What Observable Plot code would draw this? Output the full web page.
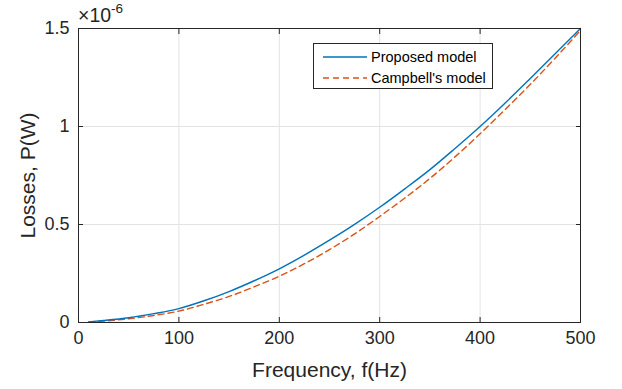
<!DOCTYPE html>
<html>
<head>
<meta charset="utf-8">
<script src="https://cdn.jsdelivr.net/npm/d3@7"></script>
<script src="https://cdn.jsdelivr.net/npm/@observablehq/plot@0.6"></script>
<style>
  html, body { margin: 0; padding: 0; background: #fff; }
  #wrap { position: relative; width: 622px; height: 389px; font-family: "Liberation Sans", Arial, Helvetica, sans-serif; }
  #legend { position: absolute; left: 313px; top: 43px; width: 180px; height: 46px; border: 1px solid #262626; background: #fff; box-sizing: border-box; font-size: 14.5px; color: #000; }
  .row { position: absolute; left: 9px; height: 18px; display: flex; align-items: center; }
  .row span { margin-left: 4px; }
  #expo { position: absolute; left: 78px; top: 6px; font-size: 19.5px; line-height: 19px; color: #262626; white-space: nowrap; }
  #expo sup { font-size: 13.5px; line-height: 12px; vertical-align: baseline; position: relative; top: -9px; }
</style>
</head>
<body>
<div id="wrap"></div>
<script>
// Frequency (Hz)
const freq = [10, 25, 50, 75, 100, 125, 150, 175, 200, 225, 250, 275, 300, 325, 350, 375, 400, 425, 450, 475, 500];
// Losses in units of 1e-6 W
const proposed = [0.003, 0.010, 0.024, 0.045, 0.071, 0.111, 0.158, 0.213, 0.274, 0.344, 0.420, 0.501, 0.588, 0.682, 0.780, 0.888, 1.000, 1.120, 1.245, 1.372, 1.500];
const campbell = [0.002, 0.007, 0.019, 0.036, 0.058, 0.093, 0.133, 0.182, 0.236, 0.300, 0.372, 0.452, 0.541, 0.635, 0.735, 0.845, 0.963, 1.087, 1.215, 1.350, 1.490];
const xTicks = [0, 100, 200, 300, 400, 500];
const yTicks = [0, 0.5, 1, 1.5];
const seriesNames = ["Proposed model", "Campbell's model"];
const colors = ["#0072BD", "#D95319"];

const rows = freq.flatMap((f, i) => [
  {f, v: proposed[i], s: seriesNames[0]},
  {f, v: campbell[i], s: seriesNames[1]}
]);

const axisColor = "#262626";
const plot = Plot.plot({
  width: 622,
  height: 389,
  marginLeft: 78,
  marginRight: 42,
  marginTop: 28,
  marginBottom: 67,
  style: { fontFamily: '"Liberation Sans", Arial, Helvetica, sans-serif', background: "#fff", color: axisColor },
  x: { domain: [0, 500] },
  y: { domain: [0, 1.5] },
  marks: [
    Plot.gridX(xTicks, { stroke: "#e3e3e3", strokeOpacity: 1 }),
    Plot.gridY(yTicks, { stroke: "#e3e3e3", strokeOpacity: 1 }),
    Plot.line(rows.filter(d => d.s === seriesNames[1]), { x: "f", y: "v", stroke: colors[1], strokeWidth: 1.4, strokeDasharray: "6,4", curve: "monotone-x" }),
    Plot.line(rows.filter(d => d.s === seriesNames[0]), { x: "f", y: "v", stroke: colors[0], strokeWidth: 1.4, curve: "monotone-x" }),
    Plot.frame({ stroke: axisColor, strokeWidth: 1 }),
    Plot.axisX(xTicks, { anchor: "bottom", tickSize: -5, tickPadding: 14, fontSize: 18, label: null, stroke: axisColor, fill: axisColor }),
    Plot.axisX(xTicks, { anchor: "top", tickSize: -5, tickFormat: () => "", label: null, stroke: axisColor }),
    Plot.axisY(yTicks, { anchor: "left", tickSize: -5, tickPadding: 14, fontSize: 18, label: null, tickFormat: d => String(d), stroke: axisColor, fill: axisColor }),
    Plot.axisY(yTicks, { anchor: "right", tickSize: -5, tickFormat: () => "", label: null, stroke: axisColor }),
    Plot.text(["Frequency, f(Hz)"], { frameAnchor: "bottom", dy: 54, fontSize: 21, fill: axisColor }),
    Plot.text(["Losses, P(W)"], { frameAnchor: "left", textAnchor: "middle", lineAnchor: "middle", dx: -50, rotate: -90, fontSize: 21, fill: axisColor })
  ]
});

const wrap = document.getElementById("wrap");
wrap.appendChild(plot);

const expo = document.createElement("div");
expo.id = "expo";
expo.innerHTML = "×10<sup>-6</sup>";
wrap.appendChild(expo);

const legend = document.createElement("div");
legend.id = "legend";
seriesNames.forEach((name, i) => {
  const row = document.createElement("div");
  row.className = "row";
  row.style.top = (4 + i * 21) + "px";
  row.innerHTML = `<svg width="44" height="10"><line x1="0" y1="5" x2="44" y2="5" stroke="${colors[i]}" stroke-width="1.4" ${i === 1 ? 'stroke-dasharray="6,4"' : ''}/></svg><span>${name}</span>`;
  legend.appendChild(row);
});
wrap.appendChild(legend);
</script>
</body>
</html>
